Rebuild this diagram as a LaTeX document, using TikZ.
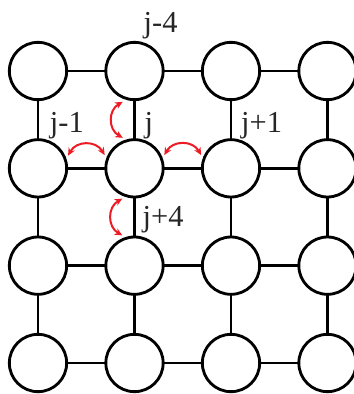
\documentclass[tikz,border=0pt]{standalone}
\usepackage{fontspec}
\setmainfont{Liberation Serif}
\usetikzlibrary{arrows.meta, positioning, calc}
\definecolor{hopred}{RGB}{237,28,36}

\begin{document}
\begin{tikzpicture}[
  site/.style = {draw, circle, line width=0.085cm, minimum size=1.72cm,
                 inner sep=0pt, outer sep=0pt},
  link/.style = {line width=0.085cm},
  hop/.style  = {{Stealth[length=6.5pt, width=6pt]}-{Stealth[length=6.5pt, width=6pt]},
                 draw=hopred, line width=0.06cm, looseness=1.2},
  lbl/.style  = {anchor=base west, inner sep=0pt,
                 font=\fontsize{26}{28}\selectfont, text=black!85},
  node distance = 1.2cm and 1.175cm,
]
\clip (0,0) rectangle (10.62,-11.82);

% ── Sites, row by row ────────────────────────────────────────────────────────
\node[site] (s11) at (1.14,-2.13) {};
\node[site, right=of s11] (s12) {};
\node[site, right=of s12] (s13) {};
\node[site, right=of s13] (s14) {};

\node[site, below=of s11] (s21) {};
\node[site, right=of s21] (s22) {};
\node[site, right=of s22] (s23) {};
\node[site, right=of s23] (s24) {};

\node[site, below=of s21] (s31) {};
\node[site, right=of s31] (s32) {};
\node[site, right=of s32] (s33) {};
\node[site, right=of s33] (s34) {};

\node[site, below=of s31] (s41) {};
\node[site, right=of s41] (s42) {};
\node[site, right=of s42] (s43) {};
\node[site, right=of s43] (s44) {};

% ── Horizontal links ─────────────────────────────────────────────────────────
\draw[link] (s11) -- (s12) (s12) -- (s13) (s13) -- (s14);
\draw[link] (s21) -- (s22) (s22) -- (s23) (s23) -- (s24);
\draw[link] (s31) -- (s32) (s32) -- (s33) (s33) -- (s34);
\draw[link] (s41) -- (s42) (s42) -- (s43) (s43) -- (s44);

% ── Vertical links ───────────────────────────────────────────────────────────
\draw[link] (s11) -- (s21) (s21) -- (s31) (s31) -- (s41);
\draw[link] (s12) -- (s22) (s22) -- (s32) (s32) -- (s42);
\draw[link] (s13) -- (s23) (s23) -- (s33) (s33) -- (s43);
\draw[link] (s14) -- (s24) (s24) -- (s34) (s34) -- (s44);

% ── Labels round site j ──────────────────────────────────────────────────────
\node[lbl] (ljm4) at ([shift={(0.27,1.17)}]s12.center) {j-4};
\node[lbl] (ljm1) at ([shift={(0.35,1.08)}]s21.center) {j-1};
\node[lbl] (lj)   at ([shift={(0.30,1.08)}]s22.center) {j};
\node[lbl] (ljp1) at ([shift={(0.30,1.08)}]s23.center) {j+1};
\node[lbl] (ljp4) at ([shift={(0.24,1.17)}]s32.center) {j+4};

% ── Hops to the neighbours ───────────────────────────────────────────────────
\draw[hop] ([shift={(-111:0.13)}]s12.-111) to[bend right=60] ([shift={(111:0.12)}]s22.111);
\draw[hop] ([shift={(-112:0.12)}]s22.-112) to[bend right=60] ([shift={(112:0.12)}]s32.112);
\draw[hop] ([shift={(23:0.12)}]s21.23)     to[bend left=60]  ([shift={(156:0.12)}]s22.156);
\draw[hop] ([shift={(24:0.12)}]s22.24)     to[bend left=60]  ([shift={(156:0.12)}]s23.156);

\end{tikzpicture}
\end{document}
